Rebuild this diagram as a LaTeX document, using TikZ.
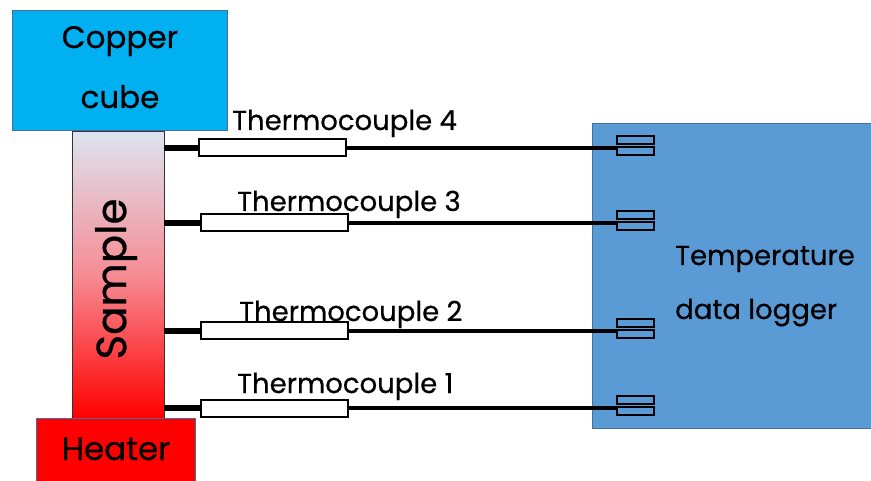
\documentclass[tikz,border=0pt]{standalone}
\usepackage{fontspec}
\setmainfont{Poppins}[FakeBold=0.6]
\definecolor{cubeblue}{RGB}{0,176,240}
\definecolor{cubeedge}{RGB}{70,110,160}
\definecolor{logblue}{RGB}{91,155,213}
\definecolor{logedge}{RGB}{65,113,156}
\definecolor{sampletop}{RGB}{221,227,240}
\definecolor{samplemid}{RGB}{246,140,148}
\definecolor{samplebot}{RGB}{255,0,0}
\begin{document}
\begin{tikzpicture}[x=1pt,y=-1pt,
  blk/.style={rectangle, inner sep=0pt, outer sep=0pt},
  lbl/.style={font=\fontsize{27.5}{30}\selectfont, inner sep=0pt, anchor=base west},
  big/.style={font=\fontsize{31}{36}\selectfont, inner sep=0pt, anchor=base},
  probe/.style={blk, draw=black, line width=2pt, fill=white, minimum width=147pt, minimum height=17pt},
  plug/.style={blk, draw=black, line width=1.7pt, minimum width=37pt, minimum height=8pt},
  stub/.style={line width=6pt},
  wire/.style={line width=3.3pt}]
\useasboundingbox (0,0) rectangle (871,481);

% data logger
\node[blk, draw=logedge, line width=0.8pt, fill=logblue, minimum width=288pt, minimum height=305pt] (logger) at (736,275.5) {};
\node[lbl] (tlog1) at (675,265) {Temperature};
\node[lbl] (tlog2) at (675,319) {data logger};

% sample
\node[blk, draw=black!80, line width=1pt, top color=sampletop, bottom color=samplebot, middle color=samplemid, minimum width=92pt, minimum height=286pt] (sample) at (118,275) {};
\node[inner sep=0pt, rotate=90, font=\fontsize{42}{48}\selectfont] (tsample) at (116,279) {Sample};

% heater
\node[blk, draw=cubeedge, line width=0.8pt, fill=red, minimum width=159pt, minimum height=66pt] (heater) at (115.5,451) {};
\node[big, font=\fontsize{32.5}{36}\selectfont] (theater) at (116,460) {Heater};

% copper cube
\node[blk, draw=cubeedge, line width=0.8pt, fill=cubeblue, minimum width=215pt, minimum height=120pt] (cube) at (119.5,70) {};
\node[big] (tcopper) at (120,48) {Copper};
\node[big] (tcube) at (120,108) {cube};

% thermocouples
\node[probe] (tc4) at (272,148) {};
\node[probe] (tc3) at (274.5,223) {};
\node[probe] (tc2) at (274.5,331) {};
\node[probe] (tc1) at (274.5,408) {};

\node[lbl] (l4) at (232,130) {Thermocouple 4};
\node[lbl] (l3) at (237,211) {Thermocouple 3};
\node[lbl] (l2) at (239,321) {Thermocouple 2};
\node[lbl] (l1) at (237,393) {Thermocouple 1};

% connectors on the logger
\foreach \i/\y in {4/148,3/223,2/331,1/408}{
  \node[plug] (pu\i) at (635.5,\y-8) {};
  \node[plug] (pl\i) at (635.5,\y+3) {};
}

% wires
\foreach \i in {1,2,3,4}{
  \draw[stub] (sample.east |- tc\i.west) -- (tc\i.west);
  \draw[wire] (tc\i.east) -- (tc\i.east -| pl\i.west);
}
\end{tikzpicture}
\end{document}
